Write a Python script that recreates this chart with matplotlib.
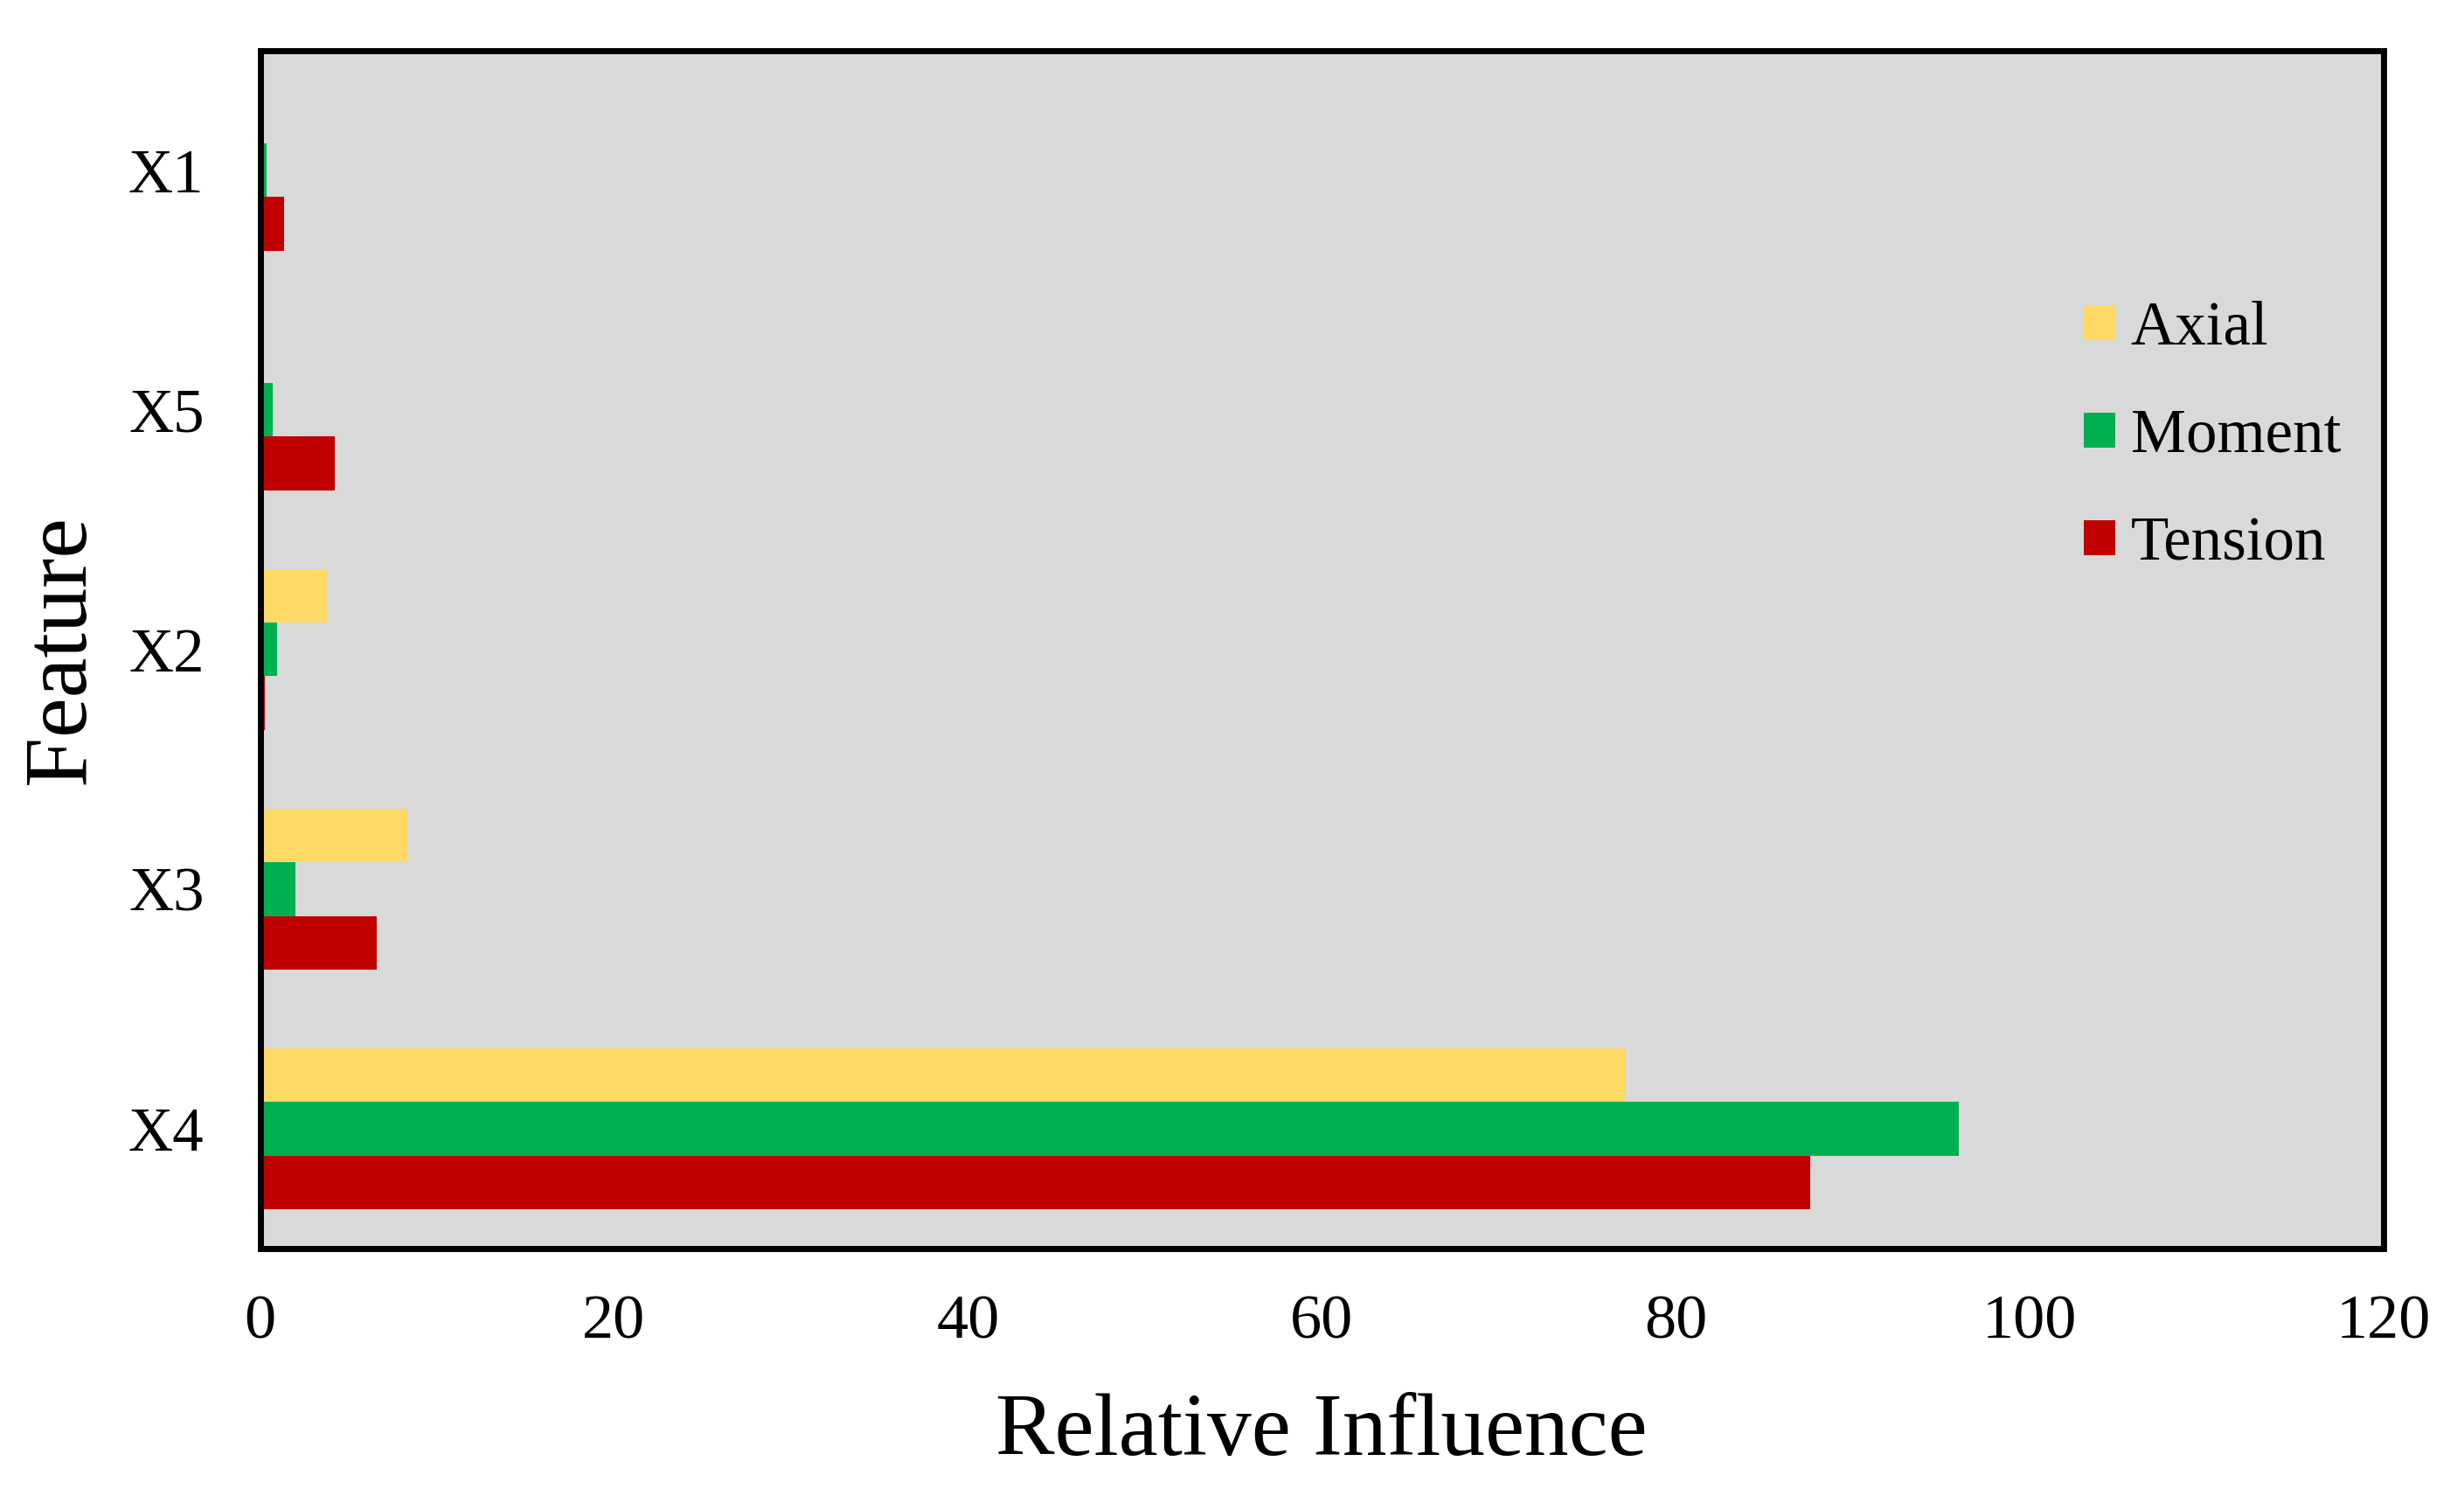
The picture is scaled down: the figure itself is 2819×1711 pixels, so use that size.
import matplotlib
matplotlib.use("Agg")
import matplotlib.pyplot as plt
import numpy as np

plt.rcParams['font.family'] = ['Liberation Serif', 'DejaVu Serif']

features = ["X4", "X3", "X2", "X5", "X1"]          # bottom -> top
series_names = ["Axial", "Moment", "Tension"]
axial = [77.2, 8.3, 3.8, 0.1, 0.1]
moment = [96.0, 2.0, 0.95, 0.7, 0.35]
tension = [87.6, 6.6, 0.25, 4.2, 1.35]
colors = ["#FFD966", "#00B050", "#C00000"]
xticks = [0, 20, 40, 60, 80, 100, 120]

W, H, DPI = 2819, 1711, 100
fig = plt.figure(figsize=(W / DPI, H / DPI), dpi=DPI)
L, R, T, B = 297.5, 2727, 57.5, 1428
ax = fig.add_axes([L / W, 1 - B / H, (R - L) / W, (B - T) / H])
ax.set_facecolor("#D9D9D9")

y = np.arange(len(features))
w = 0.224
for vals, off, c, name in zip([axial, moment, tension], [w, 0, -w], colors, series_names):
    ax.barh(y + off, vals, height=w, color=c, label=name, linewidth=0, zorder=2)

ax.set_xlim(0, 120)
ax.set_ylim(-0.5, len(features) - 0.5)
ax.set_xticks(xticks)
ax.set_xticklabels([str(t) for t in xticks])
ax.set_yticks(y)
ax.set_yticklabels(features)
ax.tick_params(axis='both', length=0)
ax.tick_params(axis='x', pad=38, labelsize=52)
ax.tick_params(axis='y', pad=46, labelsize=51)

for s in ax.spines.values():
    s.set_linewidth(5.0)
    s.set_color("black")
    s.set_zorder(5)

ax.set_xlabel("Relative Influence", fontsize=73)
ax.set_ylabel("Feature", fontsize=74)
ax.xaxis.set_label_coords(0.5, -0.121)
ax.yaxis.set_label_coords(-0.074, 0.5)

leg = ax.legend(loc='center left', bbox_to_anchor=(0.859, 0.6775), frameon=False,
                fontsize=51, handlelength=0.5, handleheight=0.5, handletextpad=0.25,
                labelspacing=0.82, borderpad=0, borderaxespad=0)

fig.savefig("out.png", dpi=DPI)
